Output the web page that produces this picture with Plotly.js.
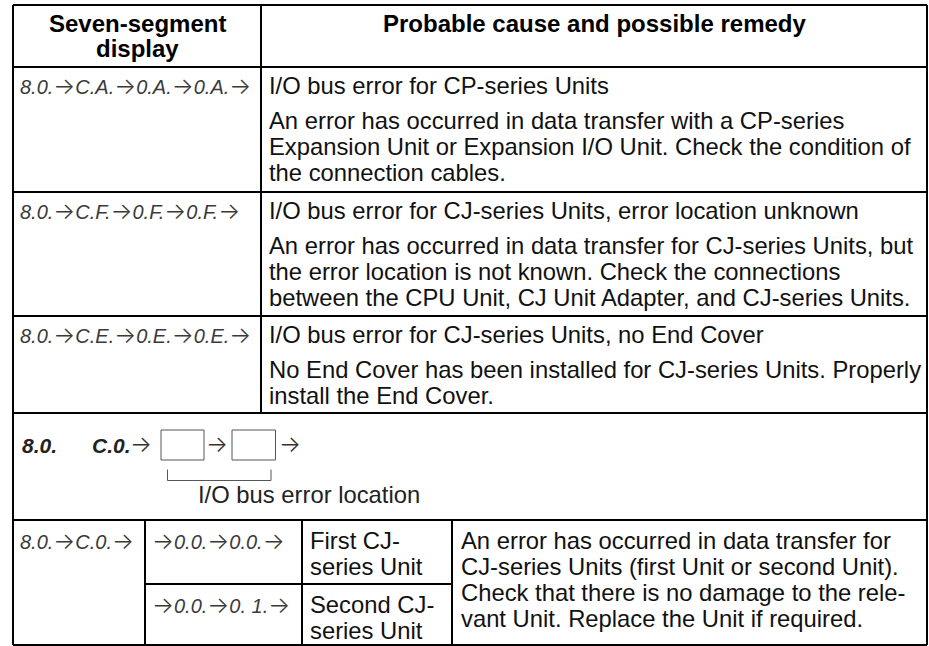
<!DOCTYPE html>
<html>
<head>
<meta charset="utf-8">
<script src="https://cdn.plot.ly/plotly-3.0.1.min.js"></script>
<style>
  html, body { margin: 0; padding: 0; background: #ffffff; }
  #chart { width: 929px; height: 646px; }
</style>
</head>
<body>
<div id="chart"></div>
<script>
// ---------------- table content ----------------
const headerLeft = ["Seven-segment", "display"];
const headerRight = ["Probable cause and possible remedy"];

const displayCodes = [
  "8.0.→C.A.→0.A.→0.A.→",
  "8.0.→C.F.→0.F.→0.F.→",
  "8.0.→C.E.→0.E.→0.E.→"
];
const causeTitles = [
  "I/O bus error for CP-series Units",
  "I/O bus error for CJ-series Units, error location unknown",
  "I/O bus error for CJ-series Units, no End Cover"
];
const remedyRow1 = [
  "An error has occurred in data transfer with a CP-series",
  "Expansion Unit or Expansion I/O Unit. Check the condition of",
  "the connection cables."
];
const remedyRow2 = [
  "An error has occurred in data transfer for CJ-series Units, but",
  "the error location is not known. Check the connections",
  "between the CPU Unit, CJ Unit Adapter, and CJ-series Units."
];
const remedyRow3 = [
  "No End Cover has been installed for CJ-series Units. Properly",
  "install the End Cover."
];

const diagramCodes = ["8.0.", "C.0."];
const diagramLabel = "I/O bus error location";

const locPrefix = "8.0.→C.0.→";
const locCodes = ["→0.0.→0.0.→", "→0.0.→0. 1.→"];
const locUnits = [["First CJ-", "series Unit"], ["Second CJ-", "series Unit"]];
const locRemedy = [
  "An error has occurred in data transfer for",
  "CJ-series Units (first Unit or second Unit).",
  "Check that there is no damage to the rele-",
  "vant Unit. Replace the Unit if required."
];

// ---------------- layout geometry (pixel space) ----------------
const W = 929, H = 646;
const L = 13, R = 927, DIV = 261;
const rowY = [5, 67, 192, 316, 413, 520, 645];
const botCols = [145, 302, 452];
const botMid = 584;
const BODY = 23.8;

const FONT = "Liberation Sans, Arial, Helvetica, sans-serif";
const SEG = "Liberation Sans, sans-serif";
const ARROWFONT = "Inter, DejaVu Sans";
const shapes = [];
const ann = [];

function hline(x0, x1, y, w, c) {
  shapes.push({type: "line", xref: "x", yref: "y", x0: x0, x1: x1, y0: y, y1: y,
    line: {color: c || "#000", width: w || 2}});
}
function vline(x, y0, y1, w, c) {
  shapes.push({type: "line", xref: "x", yref: "y", x0: x, x1: x, y0: y0, y1: y1,
    line: {color: c || "#000", width: w || 2}});
}
// arrows drawn with a thin arrow glyph
function seg(s) {
  return s.split("→").join('<span style="font-family:' + ARROWFONT + ';font-style:normal;font-weight:300;font-size:23px">→</span>');
}
function txt(s, x, y, opts) {
  opts = opts || {};
  ann.push({
    text: s, x: x, y: y, xref: "x", yref: "y",
    xanchor: opts.anchor || "left", yanchor: "middle",
    showarrow: false, borderpad: 0, borderwidth: 0,
    font: {family: opts.family || FONT, size: opts.size || BODY, color: opts.color || "#111",
      weight: opts.weight || "normal", style: opts.style || "normal"}
  });
}
const segOpts = {family: SEG, size: 20, style: "italic", color: "#3a3a3a"};

// borders
rowY.forEach(y => hline(L, R, y));
vline(L, rowY[0], rowY[6]);
vline(R, rowY[0], rowY[6]);
vline(DIV, rowY[0], rowY[4]);
botCols.forEach(x => vline(x, rowY[5], rowY[6]));
hline(botCols[0], botCols[2], botMid);

// header
const hMidL = (L + DIV) / 2, hMidR = (DIV + R) / 2;
headerLeft.forEach((s, i) => txt(s, hMidL, 23.5 + i * 25, {anchor: "center", weight: "bold", color: "#000", size: 24}));
headerRight.forEach((s, i) => txt(s, hMidR, 23.5 + i * 25, {anchor: "center", weight: "bold", color: "#000", size: 24}));

// three error rows
const remedies = [remedyRow1, remedyRow2, remedyRow3];
for (let r = 0; r < 3; r++) {
  const top = rowY[r + 1];
  txt(seg(displayCodes[r]), 20, top + 19, segOpts);
  txt(causeTitles[r], 269, top + 18);
  remedies[r].forEach((s, i) => txt(s, 269, top + 53 + i * 26.3));
}

// diagram row
const dTop = rowY[4];
const dY = dTop + 32;
txt(diagramCodes[0], 22, dY, {family: SEG, size: 21, style: "italic", weight: "bold", color: "#222"});
txt(diagramCodes[1], 92, dY, {family: SEG, size: 21, style: "italic", weight: "bold", color: "#222"});
const boxes = [[161, 204], [232, 275.5]];
const arrowsX = [141, 217, 290];
arrowsX.forEach(x => txt("→", x, dY - 1, {anchor: "center", size: 23, color: "#333", family: ARROWFONT, weight: 300}));
boxes.forEach(b => shapes.push({type: "rect", xref: "x", yref: "y", x0: b[0], x1: b[1],
  y0: dTop + 17, y1: dTop + 47, line: {color: "#555", width: 1}}));
shapes.push({type: "path", xref: "x", yref: "y",
  path: "M" + (boxes[0][0] + 6.5) + "," + (dTop + 56.5) + " V" + (dTop + 67.5) +
        " H" + (boxes[1][1] - 4.5) + " V" + (dTop + 56.5),
  line: {color: "#555", width: 1}});
txt(diagramLabel, 198, dTop + 81, {color: "#222"});

// location rows
const bTop = rowY[5];
txt(seg(locPrefix), 20, bTop + 21, segOpts);
locCodes.forEach((s, i) => txt(seg(s), 152, (i === 0 ? bTop : botMid) + 21, segOpts));
locUnits.forEach((pair, i) => pair.forEach((s, j) =>
  txt(s, 310, (i === 0 ? bTop : botMid) + 20 + j * 26)));
locRemedy.forEach((s, i) => txt(s, 461, bTop + 20 + i * 26));

const layout = {
  width: W, height: H,
  margin: {l: 0, r: 0, t: 0, b: 0, pad: 0},
  paper_bgcolor: "#ffffff", plot_bgcolor: "#ffffff",
  showlegend: false,
  xaxis: {range: [0, W], visible: false, fixedrange: true},
  yaxis: {range: [H, 0], visible: false, fixedrange: true},
  shapes: shapes,
  annotations: ann
};
Plotly.newPlot("chart", [], layout, {staticPlot: true, displayModeBar: false});
</script>
</body>
</html>
